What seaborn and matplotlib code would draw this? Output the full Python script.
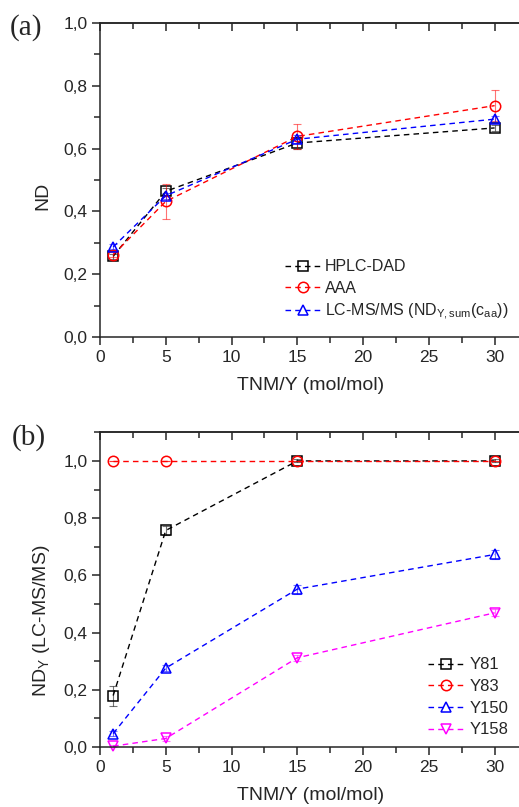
import matplotlib
matplotlib.use('Agg')
import matplotlib.pyplot as plt
from matplotlib.ticker import MultipleLocator, FixedLocator, NullFormatter
import pandas as pd
import seaborn as sns

# ---- panel (a): ND by method ----
tnm_a = [1, 5, 15, 30]
hplc_dad = [0.257, 0.464, 0.618, 0.666]
hplc_dad_err = [0.008, 0.012, 0.02, 0.01]
aaa = [0.262, 0.432, 0.639, 0.737]
aaa_err = [0.008, 0.056, 0.039, 0.05]
lcms = [0.287, 0.45, 0.63, 0.694]
lcms_err = [0.008, 0.01, 0.012, 0.01]

# ---- panel (b): ND per tyrosine ----
tnm_b = [1, 5, 15, 30]
y81 = [0.18, 0.757, 1.0, 1.0]
y81_err = [0.035, 0.015, 0.005, 0.005]
y83 = [1.0, 1.0, 1.0, 1.0]
y83_err = [0.0, 0.0, 0.0, 0.0]
y150 = [0.047, 0.276, 0.552, 0.673]
y150_err = [0.01, 0.01, 0.016, 0.016]
y158 = [0.003, 0.03, 0.312, 0.469]
y158_err = [0.003, 0.01, 0.01, 0.012]

x_ticks = [0, 5, 10, 15, 20, 25, 30]
y_ticks = [0.0, 0.2, 0.4, 0.6, 0.8, 1.0]
y_ticklabels = ['0,0', '0,2', '0,4', '0,6', '0,8', '1,0']

series_a = [
    ('HPLC-DAD', hplc_dad, hplc_dad_err, 'black', 's'),
    ('AAA', aaa, aaa_err, 'red', 'o'),
    (r'LC-MS/MS (ND$_{\mathrm{Y,sum}}$(c$_{\mathrm{aa}}$))', lcms, lcms_err, 'blue', '^'),
]
series_b = [
    ('Y81', y81, y81_err, 'black', 's'),
    ('Y83', y83, y83_err, 'red', 'o'),
    ('Y150', y150, y150_err, 'blue', '^'),
    ('Y158', y158, y158_err, 'magenta', 'v'),
]

sns.set_style('ticks')
plt.rcParams['font.family'] = ['Liberation Sans', 'DejaVu Sans']
plt.rcParams['mathtext.fontset'] = 'custom'
plt.rcParams['mathtext.rm'] = 'Liberation Sans'
plt.rcParams['mathtext.it'] = 'Liberation Sans:italic'
plt.rcParams['axes.linewidth'] = 1.1


def draw(ax, x, series):
    for label, vals, err, color, marker in series:
        df = pd.DataFrame({'x': x, 'y': vals})
        ax.errorbar(x, vals, yerr=err, fmt='none', ecolor=color, alpha=0.55,
                    capsize=3, elinewidth=0.8, capthick=0.8, clip_on=False)
        sns.lineplot(data=df, x='x', y='y', ax=ax, color=color, marker=marker,
                     linestyle=(0, (4, 3)), lw=1.0, ms=7.5, mfc='none', mec=color,
                     mew=1.1, label=label, errorbar=None, clip_on=False)


def style(ax, ymax):
    ax.set_xlim(0, 32)
    ax.set_ylim(0, ymax)
    ax.xaxis.set_major_locator(FixedLocator(x_ticks))
    ax.xaxis.set_minor_locator(MultipleLocator(2.5))
    ax.yaxis.set_major_locator(FixedLocator(y_ticks))
    ax.set_yticklabels(y_ticklabels)
    ax.yaxis.set_minor_locator(MultipleLocator(0.1))
    ax.tick_params(which='major', direction='out', length=6, width=1.1,
                   labelsize=12.5, pad=3)
    ax.tick_params(which='minor', direction='out', length=4, width=1.1)
    ax.spines['right'].set_visible(False)
    top = ax.secondary_xaxis('top')
    top.xaxis.set_major_locator(FixedLocator(x_ticks))
    top.xaxis.set_minor_locator(MultipleLocator(2.5))
    top.xaxis.set_major_formatter(NullFormatter())
    top.tick_params(which='major', direction='in', length=6, width=1.1)
    top.tick_params(which='minor', direction='in', length=4, width=1.1)
    top.spines['top'].set_linewidth(1.1)
    ax.set_xlabel('TNM/Y (mol/mol)', fontsize=14, labelpad=9)


fig = plt.figure(figsize=(5.19, 8.07), dpi=100)
ax1 = fig.add_axes([0.1927, 0.5824, 0.811, 0.389])
ax2 = fig.add_axes([0.1927, 0.0743, 0.811, 0.390])

draw(ax1, tnm_a, series_a)
style(ax1, 1.0)
ax1.set_ylabel('ND', fontsize=14)
ax1.yaxis.set_label_coords(-0.115, 0.45)
ax1.legend(loc='upper left', bbox_to_anchor=(0.44, 0.248), frameon=False,
           fontsize=11.5, handlelength=2.2, handletextpad=0.3, labelspacing=0.4,
           borderpad=0, borderaxespad=0)

draw(ax2, tnm_b, series_b)
style(ax2, 1.1)
ax2.set_ylabel(r'ND$_{\mathrm{Y}}$ (LC-MS/MS)', fontsize=14)
ax2.yaxis.set_label_coords(-0.115, 0.40)
ax2.legend(loc='upper left', bbox_to_anchor=(0.779, 0.285), frameon=False,
           fontsize=12, handlelength=2.2, handletextpad=0.3, labelspacing=0.4,
           borderpad=0, borderaxespad=0)

fig.text(10 / 519, 1 - 14 / 807, '(a)', fontsize=21, family='Liberation Serif',
         ha='left', va='top')
fig.text(12 / 519, 1 - 424 / 807, '(b)', fontsize=21, family='Liberation Serif',
         ha='left', va='top')

fig.savefig('out.png', dpi=100)
